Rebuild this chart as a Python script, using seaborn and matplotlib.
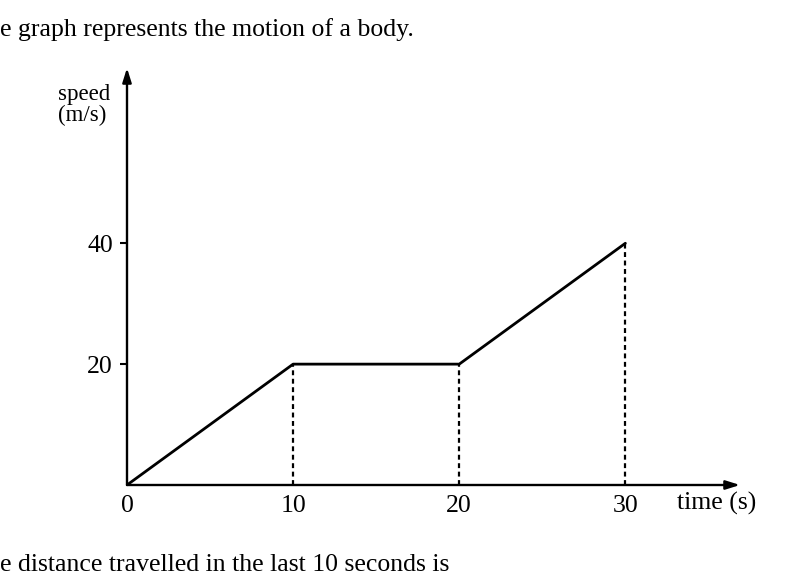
import matplotlib
matplotlib.use("Agg")
import matplotlib.pyplot as plt
import seaborn as sns

# values
time_s = [0, 10, 20, 30]
speed_ms = [0, 20, 20, 40]
y_ticks = [20, 40]
x_ticks = [0, 10, 20, 30]

top_line = "e graph represents the motion of a body."
bottom_line = "e distance travelled in the last 10 seconds is"

sns.set_theme(style="white")
plt.rcParams["font.family"] = ["Liberation Serif", "DejaVu Serif"]
plt.rcParams["text.color"] = "black"
plt.rcParams["xtick.color"] = "black"
plt.rcParams["ytick.color"] = "black"

fig = plt.figure(figsize=(8, 5.82), dpi=100)
ax = fig.add_axes([127 / 800, 97 / 582, (740 - 127) / 800, (485 - 68) / 582])

sns.lineplot(x=time_s, y=speed_ms, color="black", linewidth=2.0, ax=ax)
ax.vlines(time_s[1:], 0, speed_ms[1:], colors="black",
          linestyles=(0, (2.2, 1.6)), linewidth=1.6)

ax.set_xlim(0, 36.9)
ax.set_ylim(0, 69)
for side in ax.spines.values():
    side.set_visible(False)

# arrowed axes
arrow = dict(arrowstyle="-|>,head_length=0.7,head_width=0.22",
             color="black", linewidth=1.7, shrinkA=0, shrinkB=0)
ax.annotate("", xy=(1, 0), xytext=(0, 0), xycoords="axes fraction",
            textcoords="axes fraction", arrowprops=arrow, annotation_clip=False)
ax.annotate("", xy=(0, 1), xytext=(0, 0), xycoords="axes fraction",
            textcoords="axes fraction", arrowprops=arrow, annotation_clip=False)

ax.set_yticks(y_ticks)
ax.set_yticklabels([str(v) for v in y_ticks], fontsize=18.5)
ax.tick_params(axis="y", left=True, length=5, width=1.5, pad=5)
ax.set_xticks(x_ticks)
ax.set_xticklabels([str(v) for v in x_ticks], fontsize=18.5)
ax.tick_params(axis="x", bottom=False, length=0, pad=7)
ax.grid(False)

ax.text(-0.113, 0.962, "speed\n(m/s)", transform=ax.transAxes, fontsize=16.5,
        ha="left", va="top", linespacing=1.0)
ax.text(0.897, -0.045, "time (s)", transform=ax.transAxes, fontsize=18.5,
        ha="left", va="center")

fig.text(0.0, 1 - 30 / 582, top_line, fontsize=18.5, ha="left", va="center")
fig.text(0.0, 1 - 565 / 582, bottom_line, fontsize=18.5, ha="left", va="center")

fig.savefig("out.png", dpi=100)
plt.close(fig)
